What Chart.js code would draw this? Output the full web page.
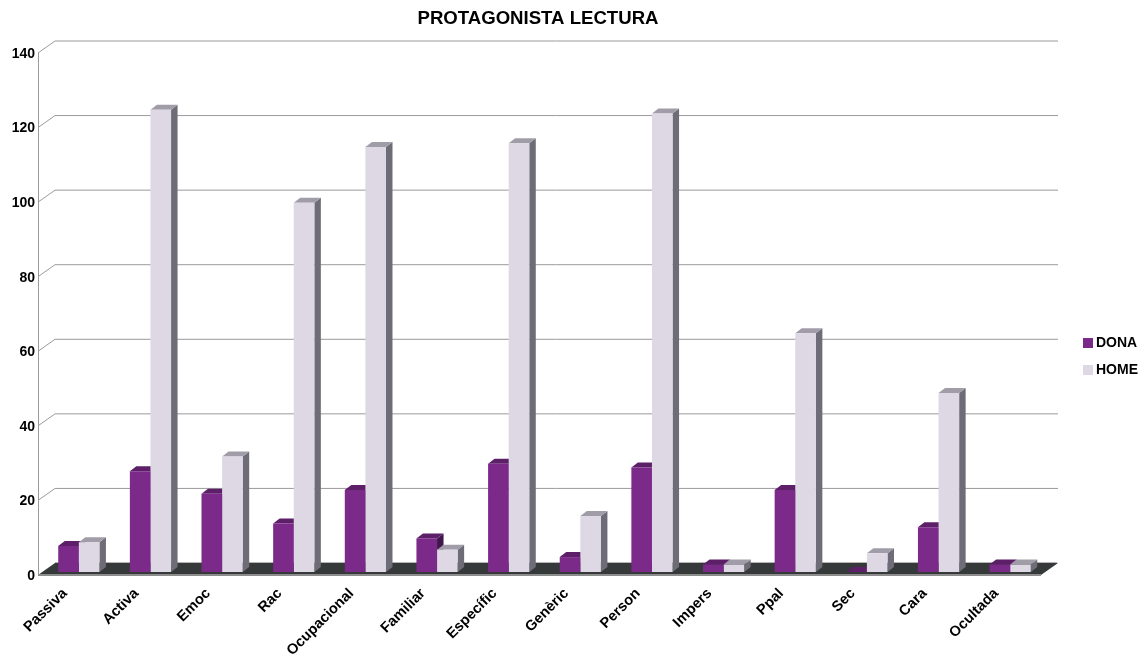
<!DOCTYPE html>
<html>
<head>
<meta charset="utf-8">
<script src="https://cdn.jsdelivr.net/npm/chart.js@4"></script>
<style>
    body { margin: 0; background: #fff; }
    #wrap { width: 1148px; height: 657px; }
</style>
</head>
<body>
<div id="wrap"><canvas id="barChart"></canvas></div>
<script>
const categories = ['Passiva', 'Activa', 'Emoc', 'Rac', 'Ocupacional', 'Familiar', 'Específic', 'Genèric', 'Person', 'Impers', 'Ppal', 'Sec', 'Cara', 'Ocultada'];
const dona = [7, 27, 21, 13, 22, 9, 29, 4, 28, 2, 22, 0, 12, 2];
const home = [8, 124, 31, 99, 114, 6, 115, 15, 123, 2, 64, 5, 48, 2];
const yMax = 140;
const yStep = 20;

const fontName = '"Liberation Sans", Arial, sans-serif';
const colors = [
    { front: '#7b2a8a', top: '#5c1f68', side: '#43154d' },
    { front: '#ddd8e4', top: '#a19da8', side: '#6e6c76' }
];

// fake 3D: bar depth, and how far the wall and the front edge sit from the bar plane
const depthX = 6.5, depthY = 5;
const backX = 12, backY = 9;
const frontX = 5, frontY = 3;

const wall3d = {
    id: 'wall3d',
    afterLayout(chart) {
        // title and legend do not sit where chart.js would centre them
        const t = chart.titleBlock;
        t.left = 0; t.right = 1076;
        const l = chart.legend;
        const w = l.width, h = l.height;
        l.left = 1074; l.right = l.left + w;
        l.top = 323; l.bottom = l.top + h;
    },
    beforeDatasetsDraw(chart) {
        const ctx = chart.ctx;
        const y = chart.scales.y;
        const area = chart.chartArea;
        const left = area.left - frontX, right = area.right - frontX;
        const y0 = y.getPixelForValue(0);

        ctx.save();
        ctx.strokeStyle = '#9a9a9a';
        ctx.lineWidth = 1;
        y.ticks.forEach(t => {
            if (t.value === 0) return;
            const py = y.getPixelForValue(t.value);
            ctx.beginPath();
            ctx.moveTo(left, py + frontY);
            ctx.lineTo(area.left + backX, py - backY);
            ctx.lineTo(right + frontX + backX, py - backY);
            ctx.stroke();
        });
        ctx.beginPath();
        ctx.moveTo(left + 0.5, y.getPixelForValue(yMax) + frontY);
        ctx.lineTo(left + 0.5, y0 + frontY);
        ctx.stroke();

        // floor
        ctx.fillStyle = '#36393a';
        ctx.beginPath();
        ctx.moveTo(left, y0 + frontY);
        ctx.lineTo(right, y0 + frontY);
        ctx.lineTo(right + frontX + backX, y0 - backY);
        ctx.lineTo(area.left + backX, y0 - backY);
        ctx.closePath();
        ctx.fill();
        ctx.strokeStyle = '#b4b4b4';
        ctx.beginPath();
        ctx.moveTo(area.left + backX, y0 - backY - 0.5);
        ctx.lineTo(right + frontX + backX - 1, y0 - backY - 0.5);
        ctx.stroke();
        ctx.strokeStyle = '#8c8c8c';
        ctx.lineWidth = 2;
        ctx.beginPath();
        ctx.moveTo(left, y0 + frontY);
        ctx.lineTo(right, y0 + frontY);
        ctx.stroke();

        // top and side of each bar, the fronts are chart.js's own bars
        categories.forEach((c, i) => {
            [0, 1].forEach(d => {
                const bar = chart.getDatasetMeta(d).data[i];
                const x1 = bar.x - bar.width / 2, x2 = bar.x + bar.width / 2;
                ctx.fillStyle = colors[d].side;
                ctx.beginPath();
                ctx.moveTo(x2, bar.y);
                ctx.lineTo(x2 + depthX, bar.y - depthY);
                ctx.lineTo(x2 + depthX, y0 - depthY);
                ctx.lineTo(x2, y0);
                ctx.closePath();
                ctx.fill();
                ctx.fillStyle = colors[d].top;
                ctx.beginPath();
                ctx.moveTo(x1, bar.y);
                ctx.lineTo(x1 + depthX, bar.y - depthY);
                ctx.lineTo(x2 + depthX, bar.y - depthY);
                ctx.lineTo(x2, bar.y);
                ctx.closePath();
                ctx.fill();
            });
        });
        ctx.restore();
    }
};

new Chart(document.getElementById('barChart'), {
    type: 'bar',
    data: {
        labels: categories,
        datasets: [
            { label: 'DONA', data: dona, backgroundColor: colors[0].front, borderWidth: 0 },
            { label: 'HOME', data: home, backgroundColor: colors[1].front, borderWidth: 0 }
        ]
    },
    options: {
        responsive: true,
        maintainAspectRatio: false,
        animation: false,
        events: [],
        layout: { padding: { right: 28 } },
        datasets: { bar: { barPercentage: 1, categoryPercentage: 0.575 } },
        scales: {
            x: {
                grid: { display: false },
                border: { display: false },
                afterFit: s => { s.height = 85; },
                ticks: {
                    autoSkip: false,
                    minRotation: 45,
                    maxRotation: 45,
                    padding: 5,
                    labelOffset: -14,
                    color: '#000',
                    font: { family: fontName, size: 14.6, weight: 'bold' }
                }
            },
            y: {
                min: 0,
                max: yMax,
                grid: { display: false },
                border: { display: false },
                afterFit: s => { s.width = 43; },
                ticks: {
                    stepSize: yStep,
                    padding: 0,
                    labelOffset: 4,
                    color: '#000',
                    font: { family: fontName, size: 14, weight: 'bold' }
                }
            }
        },
        plugins: {
            title: {
                display: true,
                text: 'PROTAGONISTA LECTURA',
                color: '#000',
                font: { family: fontName, size: 18.6, weight: 'bold' },
                padding: { top: 8, bottom: 19.68 }
            },
            legend: {
                position: 'right',
                align: 'start',
                labels: {
                    usePointStyle: true,
                    pointStyle: 'rect',
                    boxWidth: 2,
                    boxHeight: 10,
                    padding: 13,
                    color: '#000',
                    font: { family: fontName, size: 14, weight: 'bold' }
                }
            },
            tooltip: { enabled: false }
        }
    },
    plugins: [wall3d]
});
</script>
</body>
</html>
